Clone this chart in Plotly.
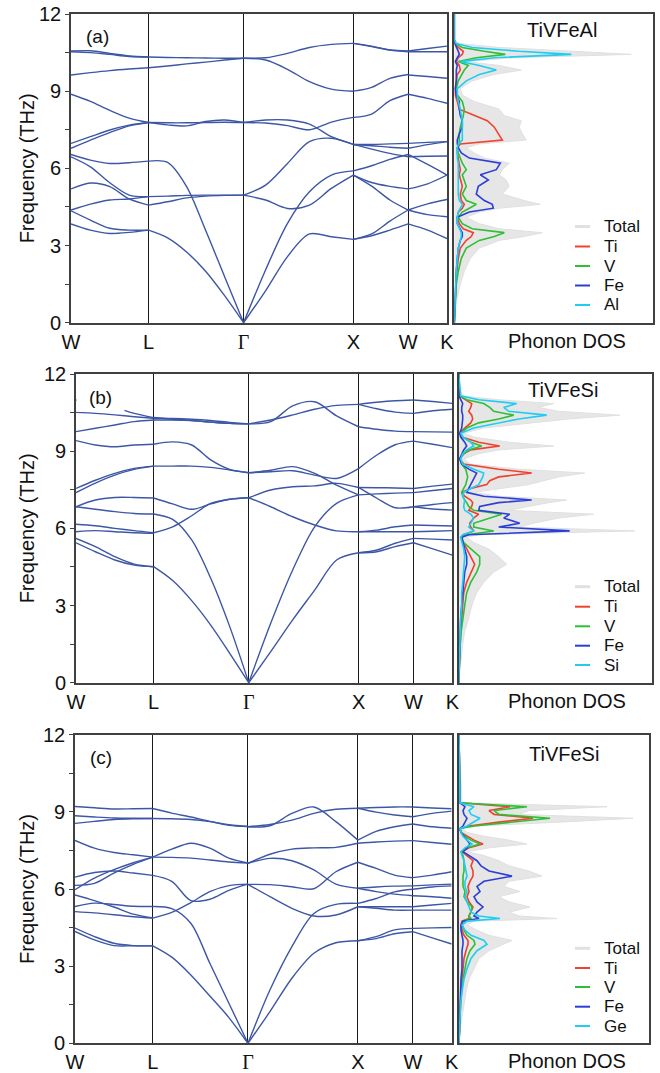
import plotly.graph_objects as go

W_PX, H_PX = 660, 1073
FONT = "Liberation Sans"

# ---------------- high-symmetry path (fcc) ----------------
HS_LABELS = ["W", "L", "<span style='font-family:Liberation Serif'>Γ</span>", "X", "W", "K"]
HS_POS = [0.0, 0.7071, 1.5731, 2.5731, 3.0731, 3.4267]
SEG_FRAC = [[0, 0.25, 0.5, 0.75, 1.0],
            [0, 0.2, 0.4, 0.6, 0.8, 1.0],
            [0, 0.2, 0.4, 0.6, 0.8, 1.0],
            [0, 1 / 3, 2 / 3, 1.0],
            [0, 0.5, 1.0]]

# ---------------- panel (a) TiVFeAl bands (THz) ----------------
A_WL = [[10.56, 10.57, 10.47, 10.37, 10.33], [10.53, 10.50, 10.43, 10.35, 10.33],
        [9.63, 9.72, 9.80, 9.86, 9.91], [8.88, 8.60, 8.25, 7.95, 7.78],
        [6.97, 7.23, 7.49, 7.68, 7.78], [6.78, 7.10, 7.39, 7.65, 7.78],
        [6.54, 6.32, 6.19, 6.22, 6.28], [6.45, 6.06, 5.44, 4.96, 4.90],
        [5.20, 5.43, 5.29, 4.81, 4.57], [4.38, 4.61, 4.77, 4.81, 4.90],
        [4.35, 3.99, 3.67, 3.60, 3.60], [3.84, 3.60, 3.47, 3.51, 3.60]]
A_LG = [[10.33, 10.31, 10.30, 10.29, 10.28, 10.28], [9.91, 9.98, 10.06, 10.13, 10.21, 10.28],
        [7.78, 7.69, 7.65, 7.82, 7.88, 7.78], [7.78, 7.77, 7.77, 7.78, 7.79, 7.78],
        [6.28, 6.23, 5.29, 3.59, 1.79, 0.0], [4.90, 4.92, 4.95, 4.96, 4.96, 4.96],
        [4.57, 4.70, 4.85, 4.92, 4.95, 4.96], [3.60, 3.30, 2.75, 2.00, 1.05, 0.0]]
A_GX = [[10.28, 10.30, 10.47, 10.70, 10.82, 10.86], [10.28, 10.21, 9.85, 9.37, 9.08, 9.00],
        [7.78, 7.88, 7.88, 7.72, 7.23, 6.93], [7.78, 7.76, 7.66, 7.50, 7.80, 7.98],
        [4.96, 5.35, 6.19, 7.04, 7.17, 6.93], [4.96, 4.77, 4.44, 4.57, 5.22, 5.74],
        [0.0, 2.05, 3.86, 5.09, 5.74, 5.90], [0.0, 1.24, 2.57, 3.45, 3.34, 3.24]]
A_XW = [[10.86, 10.73, 10.60, 10.56], [10.86, 10.75, 10.60, 10.53],
        [9.00, 9.15, 9.50, 9.65], [7.98, 8.11, 8.63, 8.88],
        [6.93, 6.93, 6.95, 6.97], [6.93, 6.88, 6.82, 6.78],
        [6.93, 6.75, 6.58, 6.45], [5.90, 6.10, 6.35, 6.54],
        [5.74, 5.45, 5.30, 5.20], [5.74, 5.31, 4.77, 4.38],
        [3.24, 3.45, 3.95, 4.38], [3.24, 3.38, 3.60, 3.84]]
A_WK = [[10.56, 10.66, 10.75], [10.53, 10.53, 10.53], [9.63, 9.57, 9.50],
        [8.88, 8.72, 8.53], [6.97, 7.01, 7.04], [6.78, 6.92, 7.04],
        [6.45, 6.47, 6.48], [6.54, 6.15, 5.74], [5.20, 5.40, 5.74],
        [4.38, 4.62, 4.79], [4.38, 4.20, 4.12], [3.84, 3.60, 3.27]]

# ---------------- panel (b) TiVFeSi bands ----------------
B_WL = [[10.99, 10.88, 10.70, 10.47, 10.30], [10.51, 10.47, 10.41, 10.34, 10.28],
        [9.76, 9.89, 10.02, 10.15, 10.21], [9.41, 9.24, 9.17, 9.24, 9.27],
        [7.55, 7.87, 8.14, 8.33, 8.42], [7.39, 7.76, 8.07, 8.29, 8.42],
        [6.84, 7.10, 7.20, 7.20, 7.18], [6.84, 6.74, 6.65, 6.58, 6.56],
        [6.16, 6.10, 6.00, 5.91, 5.83], [5.87, 5.91, 5.87, 5.83, 5.81],
        [5.61, 5.29, 4.90, 4.61, 4.51], [5.44, 5.09, 4.77, 4.57, 4.51]]
B_LG = [[10.31, 10.24, 10.19, 10.13, 10.08, 10.06], [10.28, 10.27, 10.24, 10.19, 10.12, 10.06],
        [10.21, 10.21, 10.19, 10.13, 10.08, 10.06], [9.27, 9.36, 9.24, 8.66, 8.29, 8.16],
        [8.42, 8.42, 8.42, 8.37, 8.27, 8.16], [7.18, 6.95, 6.74, 6.95, 7.13, 7.19],
        [6.56, 6.35, 5.55, 4.06, 2.18, 0.0], [5.83, 6.06, 6.49, 6.97, 7.13, 7.19],
        [4.51, 3.97, 3.19, 2.24, 1.14, 0.0]]
B_GX = [[10.06, 10.15, 10.76, 10.92, 10.37, 9.95], [10.06, 10.21, 10.41, 10.63, 10.78, 10.82],
        [8.16, 8.26, 8.40, 8.14, 7.68, 7.30], [8.16, 8.20, 8.24, 8.07, 7.94, 8.32],
        [7.19, 7.49, 7.62, 7.65, 7.75, 7.59], [7.19, 6.84, 6.45, 6.13, 5.90, 5.87],
        [0.0, 2.31, 4.38, 6.06, 6.97, 7.30], [0.0, 1.21, 2.44, 3.60, 4.77, 5.05]]
B_XW = [[10.82, 10.90, 10.96, 10.99], [10.82, 10.65, 10.52, 10.47],
        [9.95, 9.85, 9.78, 9.76], [8.32, 8.85, 9.25, 9.39],
        [7.59, 7.58, 7.57, 7.55], [7.30, 7.34, 7.37, 7.39],
        [7.59, 7.17, 6.80, 6.84], [5.87, 5.93, 6.06, 6.13],
        [5.87, 5.87, 5.87, 5.87], [5.05, 5.16, 5.42, 5.61],
        [5.05, 5.09, 5.29, 5.44]]
B_WK = [[10.99, 10.93, 10.86], [10.47, 10.57, 10.63], [9.76, 9.75, 9.74],
        [9.39, 9.27, 9.14], [7.55, 7.64, 7.72], [7.39, 7.47, 7.55],
        [6.84, 6.93, 7.00], [6.84, 6.75, 6.71], [6.13, 6.11, 6.09],
        [5.87, 5.89, 5.91], [5.61, 5.58, 5.55], [5.44, 5.20, 4.96]]

# ---------------- panel (c) bands ----------------
C_WL = [[9.21, 9.16, 9.11, 9.12, 9.13], [8.85, 8.80, 8.76, 8.75, 8.74],
        [8.55, 8.63, 8.70, 8.73, 8.74], [7.89, 7.59, 7.42, 7.33, 7.24],
        [6.46, 6.64, 6.70, 6.62, 6.53], [6.14, 6.22, 6.62, 6.96, 7.24],
        [5.97, 6.42, 6.75, 7.02, 7.24], [5.77, 5.55, 5.30, 5.02, 4.87],
        [5.32, 5.45, 5.40, 5.33, 5.32], [5.12, 5.07, 5.00, 4.92, 4.87],
        [4.48, 4.15, 3.89, 3.80, 3.79], [4.35, 4.02, 3.80, 3.79, 3.79]]
C_LG = [[9.13, 8.95, 8.80, 8.63, 8.48, 8.43], [8.74, 8.73, 8.70, 8.62, 8.50, 8.43],
        [7.24, 7.55, 7.78, 7.59, 7.20, 7.01], [7.24, 7.23, 7.20, 7.13, 7.05, 7.01],
        [6.53, 6.30, 5.55, 5.60, 5.95, 6.19], [4.87, 5.09, 5.47, 5.90, 6.13, 6.19],
        [5.32, 5.24, 4.67, 3.11, 1.56, 0.0], [3.79, 3.35, 2.66, 1.84, 1.00, 0.0]]
C_GX = [[8.42, 8.46, 8.94, 9.19, 8.62, 7.90], [8.42, 8.51, 8.68, 8.94, 9.10, 9.14],
        [7.00, 7.35, 7.55, 7.60, 7.62, 7.78], [7.00, 7.19, 7.10, 6.74, 6.19, 6.03],
        [6.18, 6.17, 6.09, 6.01, 6.67, 7.04], [6.18, 5.70, 5.25, 4.95, 4.99, 5.31],
        [0.0, 2.07, 3.76, 5.05, 5.40, 5.44], [0.0, 1.23, 2.53, 3.50, 3.91, 3.99]]
C_XW = [[9.14, 9.17, 9.19, 9.19], [9.14, 8.99, 8.88, 8.81],
        [7.90, 8.24, 8.42, 8.53], [7.78, 7.83, 7.86, 7.88],
        [7.04, 6.80, 6.54, 6.44], [6.03, 5.90, 5.80, 5.74],
        [6.03, 6.08, 6.11, 6.12], [5.44, 5.63, 5.89, 5.99],
        [5.31, 5.31, 5.31, 5.31], [5.31, 5.25, 5.18, 5.18],
        [3.99, 4.15, 4.41, 4.47], [3.99, 4.07, 4.26, 4.34]]
C_WK = [[9.19, 9.15, 9.12], [8.81, 8.94, 9.03], [8.53, 8.42, 8.36],
        [7.88, 7.81, 7.74], [6.44, 6.54, 6.67], [6.12, 6.16, 6.19],
        [5.99, 6.08, 6.12], [5.74, 5.70, 5.64], [5.31, 5.38, 5.44],
        [5.18, 5.18, 5.18], [4.47, 4.49, 4.50], [4.34, 4.10, 3.86]]

# ---------------- phonon DOS (arb. units) ----------------
FREQ_A = [0, 0.8, 1.5, 2.0, 2.5, 2.9, 3.2, 3.35, 3.5, 3.65, 3.85, 4.1, 4.3, 4.45, 4.6, 4.75,
          5.0, 5.3, 5.55, 5.75, 5.95, 6.2, 6.4, 6.6, 6.8, 6.95, 7.1, 7.35, 7.6, 7.85, 8.05,
          8.3, 8.6, 8.85, 9.1, 9.4, 9.65, 9.82, 10.0, 10.15, 10.3, 10.43, 10.55, 10.7, 10.85, 11.0, 12.0]
TOT_A = [0, 2, 6, 10, 16, 25, 45, 70, 88, 45, 25, 12, 25, 45, 86, 70, 48, 55, 52, 45, 48, 55, 30,
         20, 12, 25, 72, 68, 65, 67, 50, 45, 20, 8, 6, 18, 40, 67, 45, 12, 60, 177, 120, 45, 5, 0, 0]
TI_A = [0, 0.5, 1.5, 2.5, 4, 6, 12, 17, 19, 9, 5, 3, 4, 8, 10, 7, 6, 8, 6, 5, 6, 5, 4, 3, 3, 6,
        48, 44, 40, 33, 20, 5, 3, 1, 1, 2, 3, 6, 5, 2, 4, 8, 9, 4, 0.5, 0, 0]
V_A = [0, 1, 2, 4, 7, 12, 25, 40, 50, 18, 8, 4, 8, 15, 22, 12, 8, 12, 10, 8, 12, 8, 6, 4, 3, 5,
       5, 5, 6, 8, 9, 10, 8, 3, 2, 4, 8, 10, 14, 4, 22, 51, 30, 8, 1, 0, 0]
FE_A = [0, 0.5, 1.5, 2, 3, 4, 6, 8, 8, 6, 3, 3, 15, 39, 38, 30, 22, 24, 34, 26, 42, 46, 15, 7, 4,
        3, 3, 5, 8, 8, 6, 5, 5, 2, 1, 2, 2, 2, 3, 1, 3, 5, 4, 2, 0.5, 0, 0]
AL_A = [0, 0.5, 1, 2, 3, 4, 6, 7, 7, 5, 3, 3, 4, 6, 8, 5, 4, 4, 4, 4, 4, 4, 3, 3, 3, 4, 8, 8, 8,
        8, 7, 6, 4, 3, 3, 12, 25, 42, 25, 6, 40, 117, 65, 18, 2, 0, 0]

FREQ_B = [0, 0.8, 1.5, 2.0, 2.5, 3.0, 3.5, 3.9, 4.3, 4.6, 4.9, 5.2, 5.45, 5.65, 5.75, 5.9, 6.05,
          6.2, 6.4, 6.55, 6.7, 6.85, 7.0, 7.1, 7.25, 7.4, 7.55, 7.7, 7.85, 8.0, 8.15, 8.3, 8.5,
          8.7, 8.9, 9.05, 9.2, 9.35, 9.55, 9.7, 9.9, 10.1, 10.25, 10.4, 10.55, 10.7, 10.85, 11.0, 11.15, 12.0]
TOT_B = [0, 2, 4, 6, 10, 13, 18, 25, 35, 48, 40, 30, 15, 8, 20, 176, 60, 75, 100, 135, 50, 70, 90,
         108, 40, 15, 45, 70, 85, 100, 126, 60, 12, 5, 20, 40, 95, 50, 15, 5, 25, 70, 110, 161,
         100, 80, 95, 40, 3, 0]
TI_B = [0, 0.5, 1, 2, 3, 4, 5, 8, 13, 16, 12, 8, 4, 2, 5, 15, 12, 11, 15, 20, 10, 13, 14, 12, 6,
        3, 12, 28, 31, 40, 73, 40, 5, 1, 5, 12, 41, 20, 3, 1, 6, 12, 14, 13, 10, 12, 13, 6, 0.5, 0]
V_B = [0, 0.5, 1.5, 2.5, 4, 6, 8, 12, 18, 21, 21, 12, 5, 3, 8, 35, 15, 15, 30, 43, 15, 10, 8, 6, 4,
       3, 5, 7, 8, 9, 8, 7, 3, 1, 5, 10, 23, 12, 4, 2, 8, 20, 40, 55, 35, 31, 25, 8, 1, 0]
FE_B = [0, 0.5, 1, 1.5, 2, 3, 4, 5, 6, 8, 8, 6, 4, 3, 10, 111, 40, 61, 45, 51, 20, 21, 40, 73, 25,
        8, 10, 12, 14, 16, 18, 10, 3, 1, 3, 5, 8, 6, 2, 1, 3, 4, 4, 4, 3, 3, 4, 2, 0.5, 0]
SI_B = [0, 0.5, 1, 1.5, 2, 3, 3, 4, 5, 6, 6, 5, 3, 2, 4, 15, 10, 12, 15, 12, 6, 5, 6, 6, 4, 5, 12,
        20, 22, 24, 25, 15, 4, 2, 4, 8, 15, 12, 4, 2, 15, 40, 60, 88, 50, 45, 58, 20, 2, 0]

FREQ_C = [0, 0.8, 1.5, 2.0, 2.5, 2.9, 3.3, 3.6, 3.85, 4.0, 4.2, 4.4, 4.6, 4.75, 4.85, 4.95, 5.1,
          5.3, 5.5, 5.7, 5.9, 6.1, 6.3, 6.5, 6.7, 6.9, 7.1, 7.3, 7.45, 7.6, 7.75, 7.9, 8.05, 8.2,
          8.35, 8.45, 8.6, 8.75, 8.9, 9.05, 9.2, 9.35, 12.0]
TOT_C = [0, 2, 5, 7, 10, 15, 20, 30, 45, 53, 30, 18, 8, 15, 98, 60, 50, 71, 50, 40, 61, 45, 50, 83,
         70, 50, 40, 25, 8, 30, 68, 50, 25, 8, 3, 20, 100, 174, 60, 70, 148, 3, 0]
TI_C = [0, 0.5, 1, 2, 3, 4, 5, 7, 9, 9, 5, 3, 2, 3, 10, 10, 12, 14, 10, 8, 10, 9, 11, 14, 14, 12,
        14, 8, 3, 10, 24, 15, 8, 2, 1, 10, 40, 74, 35, 30, 51, 1, 0]
V_C = [0, 0.5, 1.5, 2.5, 4, 6, 8, 11, 16, 15, 8, 5, 3, 4, 12, 10, 12, 13, 8, 5, 6, 4, 4, 4, 5, 5, 5,
       4, 2, 8, 21, 12, 6, 2, 1, 15, 55, 91, 40, 35, 68, 1, 0]
FE_C = [0, 0.5, 1, 1.5, 2, 3, 3, 3, 4, 4, 3, 2, 2, 4, 20, 15, 18, 24, 18, 15, 21, 18, 25, 53, 30,
        22, 18, 10, 4, 8, 11, 8, 5, 2, 1, 4, 6, 8, 5, 4, 6, 1, 0]
GE_C = [0, 0.5, 1.5, 3, 5, 8, 12, 18, 28, 25, 12, 6, 3, 8, 41, 20, 12, 10, 8, 6, 8, 6, 6, 8, 7, 6,
        5, 3, 2, 6, 13, 8, 4, 2, 1, 8, 15, 21, 12, 10, 15, 1, 0]

# ---------------- styling / layout constants ----------------
BAND_COLOR = "#3d57a6"
DOS_COLORS = {"Total": "#e0e0e0", "Ti": "#f2402f", "V": "#2dbf34", "Fe": "#2b3fd8", "X": "#1fcdf2"}
FRAME = "#404040"
TXT = "#111111"

# pixel boxes: (band x0, band x1, dos x0, dos x1, y_top, y_bottom)
PANELS = [
    dict(box=(71, 447, 454.3, 652.7, 14, 322.7), bands=[A_WL, A_LG, A_GX, A_XW, A_WK],
         freq=FREQ_A, dos=[TOT_A, TI_A, V_A, FE_A, AL_A], names=["Total", "Ti", "V", "Fe", "Al"],
         tag="(a)", tagpos=(97, 36), tagbg=False, title="TiVFeAl", titlepos=(562, 30),
         legrows=[226.5, 246.5, 266, 285.5, 305]),
    dict(box=(76, 452.3, 458.7, 652.3, 374, 682.7), bands=[B_WL, B_LG, B_GX, B_XW, B_WK],
         freq=FREQ_B, dos=[TOT_B, TI_B, V_B, FE_B, SI_B], names=["Total", "Ti", "V", "Fe", "Si"],
         tag="(b)", tagpos=(100.5, 397), tagbg=True, title="TiVFeSi", titlepos=(563, 390),
         legrows=[586.7, 606.7, 626.3, 645.7, 665]),
    dict(box=(75, 451.7, 459, 649, 734.7, 1043.3), bands=[C_WL, C_LG, C_GX, C_XW, C_WK],
         freq=FREQ_C, dos=[TOT_C, TI_C, V_C, FE_C, GE_C], names=["Total", "Ti", "V", "Fe", "Ge"],
         tag="(c)", tagpos=(101, 757), tagbg=False, title="TiVFeSi", titlepos=(564, 754),
         legrows=[948.3, 968, 987, 1006.7, 1026]),
]
LEG_SYM_X = (575, 590)
LEG_TXT_X = 602


def px_x(v):
    return v / W_PX


def px_y(v):
    return 1 - v / H_PX


def band_xy(segs):
    xs, ys = [], []
    for i, seg in enumerate(segs):
        k0, k1 = HS_POS[i], HS_POS[i + 1]
        ks = [k0 + f * (k1 - k0) for f in SEG_FRAC[i]]
        for band in seg:
            xs += ks + [None]
            ys += list(band) + [None]
    return xs, ys


fig = go.Figure()
layout = dict(width=W_PX, height=H_PX, margin=dict(l=0, r=0, t=0, b=0, autoexpand=False),
              paper_bgcolor="white", plot_bgcolor="white", showlegend=False,
              font=dict(family=FONT, color=TXT, size=17))
annotations, shapes = [], []

for p, P in enumerate(PANELS):
    bx0, bx1, dx0, dx1, yt, yb = P["box"]
    ia, ib = 2 * p + 1, 2 * p + 2
    xa = "x" if ia == 1 else f"x{ia}"
    ya = "y" if ia == 1 else f"y{ia}"
    xb, yb_ = f"x{ib}", f"y{ib}"
    ydom = [px_y(yb), px_y(yt)]

    # band structure
    xs, ys = band_xy(P["bands"])
    fig.add_trace(go.Scatter(x=xs, y=ys, xaxis=xa, yaxis=ya, mode="lines",
                             line=dict(color=BAND_COLOR, width=1.4, shape="spline", smoothing=0.9),
                             hoverinfo="skip"))
    # projected DOS
    for name, vals, key in zip(P["names"], P["dos"], ["Total", "Ti", "V", "Fe", "X"]):
        if key == "Total":
            tr = go.Scatter(x=vals, y=P["freq"], xaxis=xb, yaxis=yb_, mode="lines", name=name,
                            fill="tozerox", fillcolor="#e6e6e6",
                            line=dict(color=DOS_COLORS[key], width=1))
        else:
            tr = go.Scatter(x=vals, y=P["freq"], xaxis=xb, yaxis=yb_, mode="lines", name=name,
                            line=dict(color=DOS_COLORS[key], width=1.6))
        fig.add_trace(tr)

    axline = dict(showline=True, linecolor=FRAME, linewidth=1.6, mirror=True, zeroline=False,
                  automargin=False)
    layout["xaxis" if ia == 1 else f"xaxis{ia}"] = dict(
        domain=[px_x(bx0), px_x(bx1)], anchor=ya, range=[HS_POS[0], HS_POS[-1]],
        tickmode="array", tickvals=HS_POS, ticktext=HS_LABELS, ticks="",
        tickfont=dict(size=20, family=FONT, color=TXT),
        showgrid=True, gridcolor="#1a1a1a", gridwidth=1.3, **axline)
    layout["yaxis" if ia == 1 else f"yaxis{ia}"] = dict(
        domain=ydom, anchor=xa, range=[0, 12], tickmode="array",
        tickvals=[0, 1.5, 3, 4.5, 6, 7.5, 9, 10.5, 12],
        ticktext=["0", "", "3", "", "6", "", "9", "", "12"],
        ticks="outside", ticklen=4, tickwidth=1.2, tickcolor=FRAME,
        tickfont=dict(size=20, family=FONT, color=TXT), showgrid=False, **axline)
    layout[f"xaxis{ib}"] = dict(domain=[px_x(dx0), px_x(dx1)], anchor=yb_,
                                range=[0, dx1 - dx0], showticklabels=False, ticks="",
                                showgrid=False, **axline)
    layout[f"yaxis{ib}"] = dict(domain=ydom, anchor=xb, range=[0, 12], showticklabels=False,
                                ticks="", showgrid=False, **axline)

    common = dict(xref="paper", yref="paper", showarrow=False, xanchor="center", yanchor="middle")
    annotations += [
        dict(text="Frequency (THz)", x=px_x(27), y=px_y((yt + yb) / 2), textangle=-90,
             font=dict(size=20, family=FONT, color=TXT), **common),
        dict(text=P["tag"], x=px_x(P["tagpos"][0]), y=px_y(P["tagpos"][1]),
             font=dict(size=19, family=FONT, color=TXT),
             **({"bgcolor": "white", "width": 45, "height": 26} if P["tagbg"] else {}), **common),
        dict(text=P["title"], x=px_x(P["titlepos"][0]), y=px_y(P["titlepos"][1]),
             font=dict(size=20, family=FONT, color=TXT), **common),
        dict(text="Phonon DOS", x=px_x(567), y=px_y(yb + 18),
             font=dict(size=20, family=FONT, color=TXT), **common),
    ]
    # legend (key lines + labels)
    for name, key, ry in zip(P["names"], ["Total", "Ti", "V", "Fe", "X"], P["legrows"]):
        shapes.append(dict(type="line", xref="paper", yref="paper",
                           x0=px_x(LEG_SYM_X[0]), x1=px_x(LEG_SYM_X[1]), y0=px_y(ry), y1=px_y(ry),
                           line=dict(color=DOS_COLORS[key], width=3 if key == "Total" else 2)))
        annotations.append(dict(text=name, x=px_x(LEG_TXT_X), y=px_y(ry), xref="paper", yref="paper",
                                showarrow=False, xanchor="left", yanchor="middle",
                                font=dict(size=17, family=FONT, color=TXT)))

layout["annotations"] = annotations
layout["shapes"] = shapes
fig.update_layout(**layout)
fig.write_html("out.html", config={"displayModeBar": False},
               post_script="document.body.style.margin='0';document.body.style.padding='0';")
